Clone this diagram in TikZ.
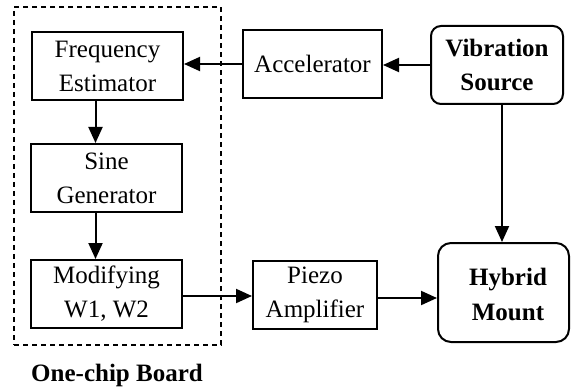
\documentclass[tikz,border=0pt]{standalone}
\usepackage{fontspec}
\setmainfont{Liberation Serif}
\usetikzlibrary{arrows.meta}
\begin{document}
\begin{tikzpicture}[x=1pt,y=-1pt,
  txt/.style={font=\fontsize{25}{34}\selectfont, align=center, inner sep=0pt},
  blockbox/.style={txt, draw, line width=2pt},
  roundbox/.style={blockbox, rounded corners=11pt},
  flow/.style={line width=2pt, -{Triangle[length=16pt,width=14pt]}}]
  \useasboundingbox (0,0) rectangle (575,390);

  % one-chip board outline
  \node[draw, dashed, dash pattern=on 5pt off 4pt, line width=1.4pt,
        minimum width=207pt, minimum height=338pt, inner sep=0pt] (board) at (117.5,176) {};
  \node[txt, font=\fontsize{25}{34}\selectfont\bfseries, anchor=base] (boardlbl) at (117,381) {One-chip Board};

  % blocks
  \node[blockbox, minimum width=151pt, minimum height=68pt] (fe) at (107.5,66) {Frequency\\Estimator};
  \node[blockbox, minimum width=151pt, minimum height=68pt] (sg) at (106.5,178) {Sine\\Generator};
  \node[blockbox, minimum width=151pt, minimum height=68pt] (mod) at (106.5,294) {Modifying\\W1, W2};
  \node[blockbox, minimum width=139pt, minimum height=68pt] (acc) at (312.5,64) {Accelerator};
  \node[blockbox, minimum width=124pt, minimum height=68pt] (pz) at (315,295) {Piezo\\Amplifier};
  \node[roundbox, rounded corners=10pt, minimum width=132pt, minimum height=78pt,
        font=\fontsize{25}{34}\selectfont\bfseries] (vs) at (497,65) {Vibration\\Source};
  \node[roundbox, rounded corners=13pt, minimum width=131pt, minimum height=99pt] (hm) at (503.5,292.5) {};
  \node[txt, font=\fontsize{25}{35}\selectfont\bfseries] (hmtxt) at (508,294) {Hybrid\\Mount};

  % connectors
  \draw[flow] (vs.west) -- (acc.east |- vs.west);
  \draw[flow] (acc.west) -- (fe.east |- acc.west);
  \draw[flow] ([xshift=-12pt]fe.south) -- ([xshift=-11pt]sg.north);
  \draw[flow] ([xshift=-11pt]sg.south) -- ([xshift=-11pt]mod.north);
  \draw[flow] ([yshift=-2pt]mod.east) -- ([yshift=-2pt]mod.east -| pz.west);
  \draw[flow] ([yshift=-3pt]pz.east) -- ([yshift=-3pt]pz.east -| hm.west);
  \draw[flow] ([xshift=5pt]vs.south) -- ([xshift=5pt]vs.south |- hm.north);
\end{tikzpicture}
\end{document}
